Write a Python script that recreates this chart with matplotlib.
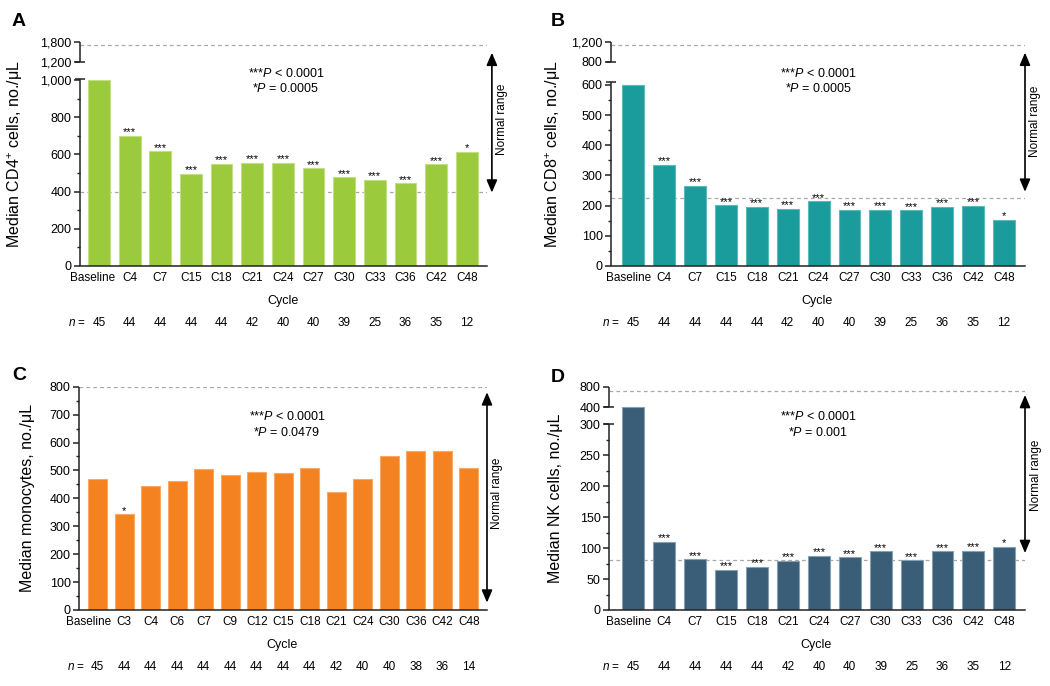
import numpy as np
import matplotlib
matplotlib.use("Agg")
import matplotlib.pyplot as plt
from matplotlib.ticker import FixedLocator, FuncFormatter
import matplotlib.transforms as mtrans

plt.rcParams['font.family'] = ['Liberation Sans', 'DejaVu Sans']
plt.rcParams['mathtext.fontset'] = 'custom'
plt.rcParams['mathtext.rm'] = 'Liberation Sans'
plt.rcParams['mathtext.it'] = 'Liberation Sans:italic'
plt.rcParams['mathtext.bf'] = 'Liberation Sans:bold'

# ---------------- data ----------------
cycles_a = ["Baseline", "C4", "C7", "C15", "C18", "C21", "C24", "C27", "C30", "C33", "C36", "C42", "C48"]
cd4 = [1000, 699, 616, 496, 550, 554, 553, 525, 476, 463, 445, 547, 614]
n_a = [45, 44, 44, 44, 44, 42, 40, 40, 39, 25, 36, 35, 12]
stars_a = ["", "***", "***", "***", "***", "***", "***", "***", "***", "***", "***", "***", "*"]

cd8 = [600, 336, 265, 201, 197, 190, 214, 187, 187, 184, 197, 199, 154]
stars_b = ["", "***", "***", "***", "***", "***", "***", "***", "***", "***", "***", "***", "*"]

cycles_c = ["Baseline", "C3", "C4", "C6", "C7", "C9", "C12", "C15", "C18", "C21", "C24", "C30", "C36", "C42", "C48"]
mono = [468, 343, 445, 462, 505, 485, 493, 490, 508, 423, 470, 552, 568, 568, 508]
n_c = [45, 44, 44, 44, 44, 44, 44, 44, 44, 42, 40, 40, 38, 36, 14]
stars_c = ["", "*", "", "", "", "", "", "", "", "", "", "", "", "", ""]

nk = [400, 110, 82, 65, 70, 79, 88, 85, 95, 80, 95, 96, 102]
stars_d = ["", "***", "***", "***", "***", "***", "***", "***", "***", "***", "***", "***", "*"]

# normal range reference lines
norm_a = [400, 1700]
norm_b = [225, 1135]
norm_c = [800]
norm_d = [81, 720]

ylabels = [r"Median CD4$^{+}$ cells, no./μL", r"Median CD8$^{+}$ cells, no./μL",
           "Median monocytes, no./μL", "Median NK cells, no./μL"]
ptexts = [(r"***$\it{P}$ < 0.0001", r"*$\it{P}$ = 0.0005"),
          (r"***$\it{P}$ < 0.0001", r"*$\it{P}$ = 0.0005"),
          (r"***$\it{P}$ < 0.0001", r"*$\it{P}$ = 0.0479"),
          (r"***$\it{P}$ < 0.0001", r"*$\it{P}$ = 0.001")]

FW, FH = 1050, 686


def piecewise(xp, fp):
    xp = np.asarray(xp, float)
    fp = np.asarray(fp, float)

    def f(v):
        v = np.asarray(v, float)
        out = np.interp(v, xp, fp)
        lo_s = (fp[1] - fp[0]) / (xp[1] - xp[0])
        hi_s = (fp[-1] - fp[-2]) / (xp[-1] - xp[-2])
        out = np.where(v < xp[0], fp[0] + (v - xp[0]) * lo_s, out)
        out = np.where(v > xp[-1], fp[-1] + (v - xp[-1]) * hi_s, out)
        return out
    return f


fig = plt.figure(figsize=(FW / 100, FH / 100), dpi=100)

SPINE_C = "#222222"
SPINE_LW = 1.1


def panel(rect_px, cats, vals, stars, ns, color, edge, norms, ylab, ptxt,
          brk_data, brk_px, ymax, major, minor, segments, caps,
          xl, xr, arrow, rtext, letter, letter_px, ptxt_px, ylab_x, base_shift):
    l, b, r, t = rect_px  # pixel coords (top-left origin)
    ax = fig.add_axes([l / FW, 1 - b / FH, (r - l) / FW, (b - t) / FH])
    if brk_data is not None:
        ax.set_yscale('function', functions=(piecewise(brk_data, brk_px), piecewise(brk_px, brk_data)))
    ax.set_ylim(0, ymax)
    x = np.arange(len(cats))
    ax.set_xlim(-xl, len(cats) - 1 + xr)
    ax.bar(x, vals, width=0.71, color=color, edgecolor=edge, linewidth=0.8, zorder=2)
    for v in norms:
        ax.axhline(v, color="#A8A8A8", lw=0.9, ls=(0, (3, 2.5)), zorder=1)
    for i, s in enumerate(stars):
        if s:
            ax.annotate(s, (x[i], vals[i]), xytext=(0, -1.0), textcoords='offset points',
                        ha='center', va='bottom', fontsize=8, zorder=3)
    # spines
    for sp in ['top', 'right', 'left']:
        ax.spines[sp].set_visible(False)
    ax.spines['bottom'].set_color(SPINE_C)
    ax.spines['bottom'].set_linewidth(SPINE_LW)
    trans = ax.get_yaxis_transform()
    for lo, hi in segments:
        ax.plot([0, 0], [lo, hi], transform=trans, color=SPINE_C, lw=SPINE_LW,
                clip_on=False, solid_capstyle='butt', zorder=4)
    for c in caps:
        ax.plot([0], [c], transform=trans, marker='_', ms=6.5, mew=SPINE_LW,
                color=SPINE_C, clip_on=False, zorder=4)
    ax.yaxis.set_major_locator(FixedLocator(major))
    ax.yaxis.set_minor_locator(FixedLocator(minor))
    ax.yaxis.set_major_formatter(FuncFormatter(lambda v, p: f"{int(round(v)):,}"))
    ax.tick_params(axis='y', which='major', length=4, width=SPINE_LW, color=SPINE_C,
                   labelsize=9, pad=2)
    ax.tick_params(axis='y', which='minor', length=2.5, width=1.0, color=SPINE_C)
    ax.set_xticks(x)
    ax.set_xticklabels(cats, fontsize=8.5)
    ax.tick_params(axis='x', length=0, pad=4)
    # shift the "Baseline" label slightly left as in the reference
    lab0 = ax.get_xticklabels()[0]
    lab0.set_transform(lab0.get_transform() + mtrans.ScaledTranslation(-base_shift / 100, 0, fig.dpi_scale_trans))
    ax.set_ylabel(ylab, fontsize=11.5)
    ax.yaxis.set_label_coords(ylab_x, 0.5)
    ax.patch.set_alpha(0)
    h = b - t
    ax.text(0.498, -35 / h, "Cycle", transform=ax.transAxes, ha='center', va='center', fontsize=9)
    bt = mtrans.blended_transform_factory(ax.transData, ax.transAxes)
    ny = -57 / h
    for i, nv in enumerate(ns):
        ax.text(x[i], ny, str(nv), transform=bt, ha='center', va='center', fontsize=8.5)
    ax.annotate(r"$\it{n}$ =", (x[0], ny), xycoords=bt, xytext=(-9.5, 0),
                textcoords='offset points', ha='right', va='center', fontsize=8.5)
    # normal range arrow
    ax_x, y0, y1 = arrow
    ax.annotate('', xy=(ax_x, y1), xytext=(ax_x, y0), xycoords='axes fraction',
                arrowprops=dict(arrowstyle='<|-|>,head_length=0.75,head_width=0.32',
                                color='black', lw=1.2, shrinkA=0, shrinkB=0))
    ax.text(rtext[0], rtext[1], "Normal range", transform=ax.transAxes, rotation=90,
            ha='center', va='center', fontsize=8.5)
    fig.text(letter_px[0] / FW, 1 - letter_px[1] / FH, letter, fontsize=14,
             fontweight='bold', ha='left', va='center')
    fig.text(ptxt_px[0] / FW, 1 - ptxt_px[1] / FH, ptxt[0], fontsize=9, ha='center', va='center')
    fig.text(ptxt_px[0] / FW, 1 - (ptxt_px[1] + 15) / FH, ptxt[1], fontsize=9, ha='center', va='center')
    return ax


# Panel A
panel((80, 266, 487, 41.5), cycles_a, cd4, stars_a, n_a, "#9BCA3C", "#C3DF86", norm_a,
      ylabels[0], ptexts[0], [0, 1000, 1200, 1800], [0, 186, 204.3, 224.5], 1800,
      [0, 200, 400, 600, 800, 1000, 1200, 1800], [100, 300, 500, 700, 900],
      [(0, 1010), (1200, 1800)], [1010, 1200], 0.62, 0.66,
      (1.012, 0.327, 0.95), (1.036, 0.655), "A", (12, 21), (286, 73.5), -0.135, 6)

# Panel B
panel((611, 266, 1025, 41.7), cycles_a, cd8, stars_b, n_a, "#1A9C9C", "#5CB9B9", norm_b,
      ylabels[1], ptexts[1], [0, 600, 800, 1200], [0, 181, 204.3, 224.3], 1200,
      [0, 100, 200, 300, 400, 500, 600, 800, 1200], [50, 150, 250, 350, 450, 550],
      [(0, 622), (800, 1200)], [622, 800], 0.72, 0.68,
      (1.0, 0.331, 0.951), (1.024, 0.646), "B", (551, 21), (818.5, 73.5), -0.115, 5)

# Panel C
panel((79, 610, 487, 386.7), cycles_c, mono, stars_c, n_c, "#F58220", "#F9A866", norm_c,
      ylabels[2], ptexts[2], None, None, 800,
      list(range(0, 801, 100)), list(range(50, 800, 100)),
      [(0, 800)], [], 0.71, 0.69,
      (1.0, 0.033, 0.975), (1.025, 0.524), "C", (12, 375), (287, 417), -0.108, 9)

# Panel D
panel((609, 610, 1025, 386.7), cycles_a, nk, stars_d, n_a, "#3A5E78", "#86A0B4", norm_d,
      ylabels[3], ptexts[3], [0, 300, 400, 800], [0, 185.7, 203, 223.3], 800,
      [0, 50, 100, 150, 200, 250, 300, 400, 800], [25, 75, 125, 175, 225, 275],
      [(0, 300), (400, 800)], [300, 400], 0.79, 0.67,
      (1.0, 0.255, 0.963), (1.026, 0.605), "D", (551, 377.5), (818, 417), -0.11, 5)

fig.savefig("out.png", dpi=100)
